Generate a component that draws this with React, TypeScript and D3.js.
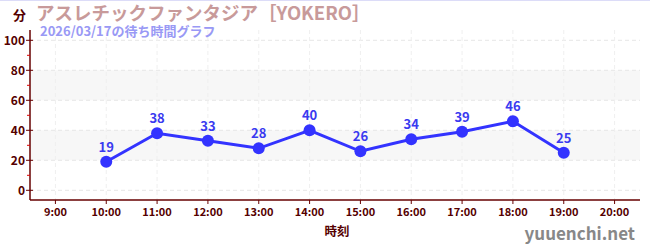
import React from "react";
import * as d3 from "d3";

const hours = [10, 11, 12, 13, 14, 15, 16, 17, 18, 19];
const waits = [19, 38, 33, 28, 40, 26, 34, 39, 46, 25];
const xTicks = [9, 10, 11, 12, 13, 14, 15, 16, 17, 18, 19, 20];
const yTicks = [0, 20, 40, 60, 80, 100];
const yMinor = [10, 30, 50, 70, 90];
const bands = [[20, 40], [60, 80]];
const title = "アスレチックファンタジア［YOKERO］";
const subtitle = "2026/03/17の待ち時間グラフ";

const W = 650, H = 250;
const L = 30, R = 640, T = 30, B = 200;
const FONT = "'Noto Sans CJK JP', 'Noto Sans', sans-serif";
const AXIS = "#660000";

export default function App() {
  const x = d3.scaleLinear().domain([8.5, 20.5]).range([L, R]);
  const y = d3.scaleLinear().domain([0, 100]).range([190.3, 40.3]);
  const line = d3.line<number>().x((_, i) => x(hours[i])).y((d) => y(d));
  return (
    <svg width={W} height={H} style={{ position: "absolute", left: 0, top: 0, fontFamily: FONT }}>
      <rect x={0} y={0} width={W} height={H} fill="#fff" />
      <line x1={0} x2={W} y1={0.5} y2={0.5} stroke="#dcdcf8" />
      {bands.map(([a, b], i) => (
        <rect key={i} x={L} width={R - L} y={y(b)} height={y(a) - y(b)} fill="#f7f7f7" />
      ))}
      {yTicks.map((t) => (
        <line key={t} x1={L} x2={R} y1={y(t)} y2={y(t)} stroke="#e6e6e6" strokeDasharray="4,3" />
      ))}
      {xTicks.map((t) => (
        <line key={t} x1={x(t)} x2={x(t)} y1={T} y2={B} stroke="#efefef" strokeDasharray="4,3" />
      ))}
      <line x1={L} x2={L} y1={T} y2={B} stroke={AXIS} strokeWidth={1.5} />
      <line x1={L} x2={R} y1={B} y2={B} stroke={AXIS} strokeWidth={1.5} />
      {yTicks.map((t) => (
        <g key={t}>
          <line x1={L - 4} x2={L + 3} y1={y(t)} y2={y(t)} stroke={AXIS} />
          <text x={L - 5} y={y(t)} dy="0.35em" textAnchor="end" fontSize={12} fontWeight="bold" fill="#550000">{t}</text>
        </g>
      ))}
      {yMinor.map((t) => (
        <line key={t} x1={L - 3} x2={L} y1={y(t)} y2={y(t)} stroke="#dd0000" />
      ))}
      {xTicks.map((t) => (
        <g key={t}>
          <line x1={x(t)} x2={x(t)} y1={B} y2={B + 4} stroke={AXIS} />
          <text x={x(t)} y={B + 16} textAnchor="middle" fontSize={11} fontWeight="bold" fill="#550000">{`${t}:00`}</text>
        </g>
      ))}
      <path d={line(waits) || ""} fill="none" stroke="#3333ff" strokeWidth={3} />
      {waits.map((v, i) => (
        <g key={i}>
          <circle cx={x(hours[i])} cy={y(v)} r={6} fill="#3333ff" />
          <text x={x(hours[i])} y={y(v) - 10} textAnchor="middle" fontSize={13} fontWeight="bold" fill="#3a3af0">{v}</text>
        </g>
      ))}
      <text x={13} y={20} fontSize={13} fontWeight="bold" fill="#550000">分</text>
      <text x={36} y={20} fontSize={18.5} fontWeight="bold" fill="#c89a9a">{title}</text>
      <text x={40} y={36} fontSize={13} fontWeight="bold" fill="#9999f5">{subtitle}</text>
      <text x={337} y={236} textAnchor="middle" fontSize={12.5} fontWeight="bold" fill="#550000">時刻</text>
      <text x={635} y={240} textAnchor="end" fontSize={17} fontWeight="bold" fill="#888888">yuuenchi.net</text>
    </svg>
  );
}
